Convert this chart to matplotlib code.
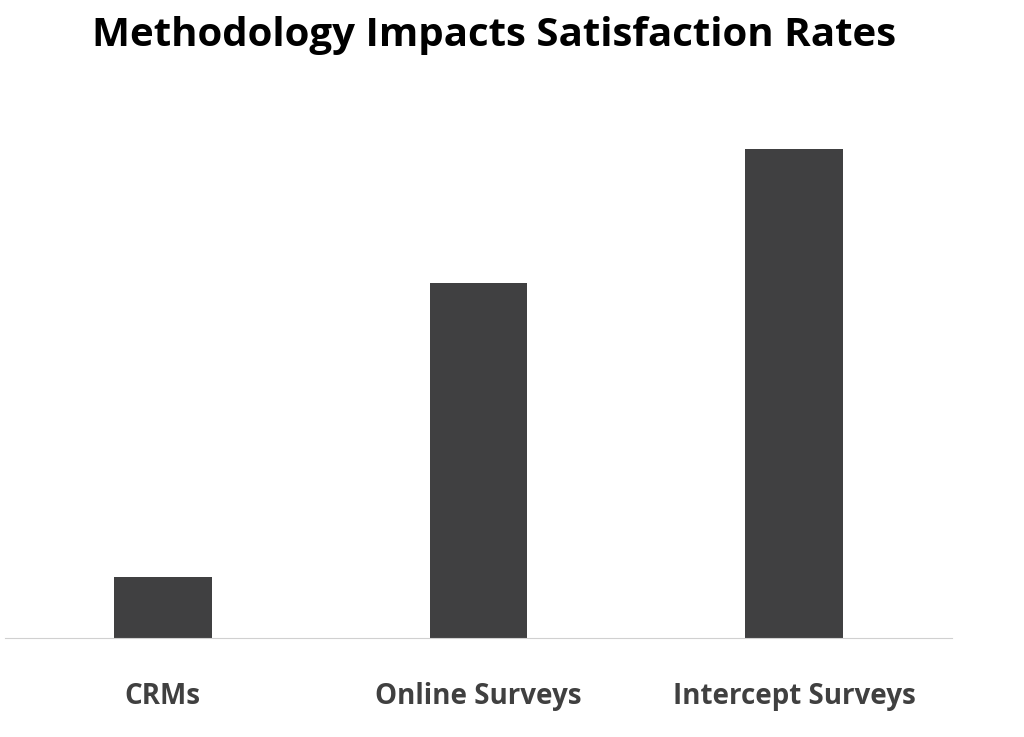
import matplotlib.pyplot as plt

categories = ["CRMs", "Online Surveys", "Intercept Surveys"]
values = [61, 355, 489]

plt.rcParams["font.family"] = ["Open Sans", "DejaVu Sans"]

fig = plt.figure(figsize=(10.24, 7.37), dpi=100)
ax = fig.add_axes([5 / 1024, 99 / 737, 947 / 1024, 538 / 737])

ax.bar(range(len(categories)), values, width=0.31, color="#404041")
ax.set_xlim(-0.5, 2.5)
ax.set_ylim(0, 538)
ax.set_xticks(range(len(categories)))
ax.set_xticklabels(categories, fontsize=20, fontweight="bold", color="#404040")
ax.tick_params(axis="x", length=0, pad=32)
ax.set_yticks([])
for s in ["top", "right", "left"]:
    ax.spines[s].set_visible(False)
ax.spines["bottom"].set_color("#d0d0d0")

fig.text(0.482, 0.952, "Methodology Impacts Satisfaction Rates",
         ha="center", va="center", fontsize=29, fontweight="bold")

fig.savefig("out.png", dpi=100)
